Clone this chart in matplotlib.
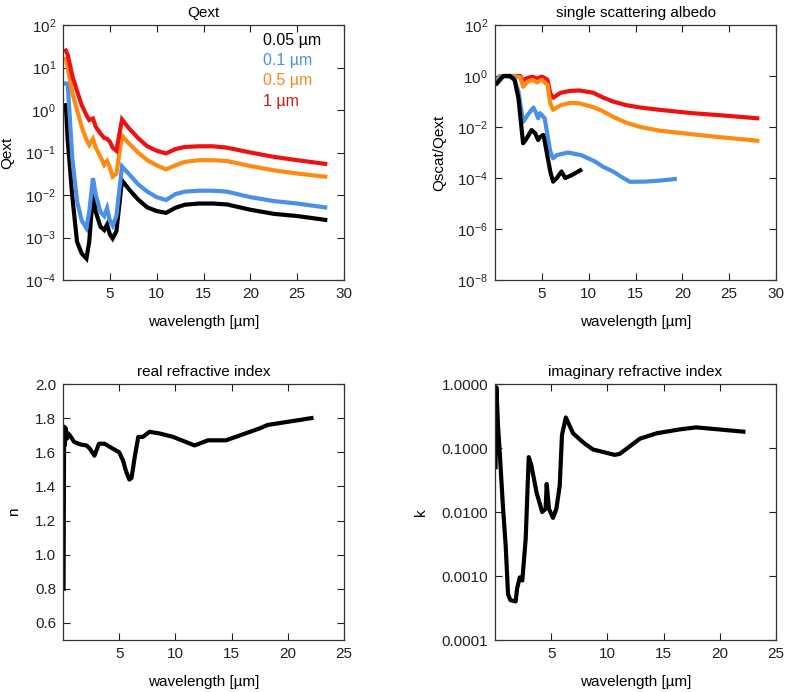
import matplotlib
matplotlib.use("Agg")
import matplotlib.pyplot as plt
from matplotlib.ticker import FixedLocator, FuncFormatter

plt.rcParams['font.family'] = ['Liberation Sans', 'DejaVu Sans']
plt.rcParams['mathtext.default'] = 'regular'
plt.rcParams['font.size'] = 11

# ---------------- data ----------------
sizes = ["0.05 µm", "0.1 µm", "0.5 µm", "1 µm"]
colors = ["#000000", "#4a8fe8", "#ff8a12", "#ee1111"]
label_colors = ["#000000", "#4a8fe8", "#f08a1e", "#d01818"]

qext_wl = [0.3, 0.5, 1.0, 1.5, 2.0, 2.5, 2.8, 3.2, 3.5, 4.0, 4.4, 4.7, 5.0, 5.3, 5.7,
           6.3, 7.0, 8.0, 9.0, 10.0, 11.0, 12.0, 13.0, 14.5, 16.0, 17.5, 20.0, 22.5, 25.0, 28.0]
qext_005 = [1.3, 0.2, 0.0089, 0.00079, 0.00042, 0.00032, 0.00079, 0.011, 0.004, 0.0018,
            0.0015, 0.002, 0.0012, 0.00095, 0.0014, 0.022, 0.014, 0.0079, 0.0051, 0.0042,
            0.0038, 0.005, 0.0059, 0.0063, 0.0063, 0.006, 0.0045, 0.0036, 0.0032, 0.0026]
qext_01 = [4.2, 4.2, 0.071, 0.0071, 0.0025, 0.00166, 0.004, 0.025, 0.010, 0.004,
           0.0032, 0.0049, 0.0025, 0.0019, 0.0032, 0.047, 0.032, 0.018, 0.012, 0.0089,
           0.0076, 0.0105, 0.012, 0.0126, 0.0126, 0.012, 0.0089, 0.0072, 0.0063, 0.0051]
qext_05 = [16, 10, 2.5, 1.0, 0.40, 0.20, 0.15, 0.21, 0.13, 0.079,
           0.051, 0.063, 0.045, 0.027, 0.032, 0.25, 0.166, 0.10, 0.066, 0.050,
           0.040, 0.050, 0.060, 0.066, 0.066, 0.063, 0.048, 0.038, 0.032, 0.027]
qext_1 = [25, 20, 6.3, 2.8, 1.3, 0.76, 0.58, 0.63, 0.40, 0.28,
          0.22, 0.21, 0.18, 0.13, 0.11, 0.60, 0.38, 0.22, 0.14, 0.11,
          0.095, 0.12, 0.135, 0.14, 0.14, 0.13, 0.10, 0.079, 0.066, 0.054]

alb_wl_005 = [0.2, 0.9, 1.6, 2.1, 2.5, 3.0, 3.3, 3.9, 4.3, 4.6, 4.8, 5.15, 5.3, 5.9, 6.2,
              6.6, 7.1, 7.5, 8.2, 9.1]
alb_005 = [0.51, 1.0, 1.0, 0.69, 0.135, 0.0023, 0.0032, 0.0076, 0.0056, 0.0031, 0.004,
           0.0049, 0.0028, 0.00018, 7.2e-5, 1e-4, 0.00018, 1e-4, 0.00013, 0.0002]
alb_wl_01 = [0.2, 0.5, 1.0, 2.0, 2.5, 3.0, 3.5, 4.1, 4.4, 4.6, 4.8, 5.3, 5.9, 6.2, 6.6,
             7.8, 9.2, 10.7, 11.5, 12.6, 13.5, 14.4, 16.0, 17.6, 19.2]
alb_01 = [0.56, 0.89, 1.0, 0.89, 0.25, 0.016, 0.030, 0.058, 0.035, 0.022, 0.035, 0.022,
          0.0011, 0.00059, 0.00079, 0.001, 0.00079, 0.00044, 0.00028, 0.00018, 0.00011,
          7.1e-5, 7.2e-5, 7.9e-5, 9.1e-5]
alb_wl_big = [0.2, 0.5, 1.0, 2.0, 2.7, 3.0, 3.5, 4.0, 4.5, 5.0, 5.3, 5.6, 5.9, 6.2, 7.0,
              8.0, 9.0, 10.5, 11.5, 12.6, 14.0, 15.5, 17.6, 21.0, 24.0, 28.0]
alb_05 = [0.63, 1.0, 1.0, 1.0, 0.89, 0.38, 0.60, 0.71, 0.56, 0.71, 0.56, 0.45, 0.085,
          0.047, 0.071, 0.089, 0.085, 0.060, 0.042, 0.025, 0.0148, 0.010, 0.0072, 0.0052,
          0.004, 0.0029]
alb_1 = [0.63, 1.0, 1.0, 1.0, 1.0, 0.66, 0.85, 0.93, 0.79, 0.95, 0.83, 0.71, 0.21, 0.14,
         0.22, 0.26, 0.27, 0.22, 0.145, 0.10, 0.072, 0.058, 0.047, 0.035, 0.029, 0.022]

n_wl = [0.05, 0.1, 0.15, 0.25, 0.35, 0.45, 0.6, 1.0, 1.6, 2.1, 2.4, 2.8, 3.2, 3.7, 4.2,
        4.6, 5.0, 5.35, 5.6, 5.9, 6.1, 6.4, 6.7, 7.1, 7.7, 8.6, 9.8, 11.7, 12.9, 14.5,
        17.5, 18.2, 22.1]
n_val = [0.8, 1.75, 1.64, 1.74, 1.68, 1.71, 1.70, 1.66, 1.645, 1.64, 1.62, 1.58, 1.65,
         1.65, 1.63, 1.615, 1.60, 1.55, 1.49, 1.44, 1.45, 1.58, 1.69, 1.69, 1.72, 1.71,
         1.69, 1.64, 1.67, 1.67, 1.74, 1.76, 1.80]

k_wl = [0.05, 0.12, 0.27, 0.42, 0.7, 0.95, 1.16, 1.37, 1.84, 1.96, 2.2, 2.43, 2.73, 3.0,
        3.23, 3.7, 4.2, 4.5, 4.6, 4.8, 5.16, 5.46, 5.76, 5.96, 6.3, 6.94, 7.83, 8.7,
        10.65, 11.1, 12.9, 14.4, 16.4, 17.9, 22.1]
k_val = [0.05, 0.89, 0.22, 0.087, 0.0126, 0.003, 0.00052, 0.00042, 0.0004, 0.00063,
         0.00095, 0.00085, 0.0038, 0.072, 0.054, 0.020, 0.010, 0.0112, 0.0275, 0.0112,
         0.0081, 0.0112, 0.026, 0.16, 0.30, 0.17, 0.123, 0.095, 0.078, 0.081, 0.14,
         0.17, 0.195, 0.21, 0.18]

# ---------------- figure ----------------
W, H = 786, 692
fig = plt.figure(figsize=(W / 100, H / 100), dpi=100)

def box(x0, y0, x1, y1):
    return [x0 / W, 1 - y1 / H, (x1 - x0) / W, (y1 - y0) / H]

ax1 = fig.add_axes(box(63, 25, 344, 280))
ax2 = fig.add_axes(box(495, 25, 776, 280))
ax3 = fig.add_axes(box(63, 384, 344, 640))
ax4 = fig.add_axes(box(495, 384, 776, 640))

LW = 3.0

def style(ax):
    ax.tick_params(direction='in', length=5, width=0.8, top=True, right=True,
                   labelsize=11, pad=5, colors='#222222')
    ax.tick_params(axis='both', which='minor', length=0)
    for s in ax.spines.values():
        s.set_linewidth(0.9)
        s.set_color('#333333')

# Panel 1: Qext
for y, c in zip([qext_005, qext_01, qext_05, qext_1], colors):
    ax1.plot(qext_wl, y, color=c, lw=LW, solid_joinstyle='miter')
ax1.set_yscale('log')
ax1.set_ylim(1e-4, 1e2)
ax1.set_xlim(0, 30)
ax1.xaxis.set_major_locator(FixedLocator([5, 10, 15, 20, 25, 30]))
ax1.yaxis.set_major_locator(FixedLocator([1e-4, 1e-3, 1e-2, 1e-1, 1e0, 1e1, 1e2]))
ax1.set_title("Qext", fontsize=11, pad=6)
ax1.set_xlabel("wavelength [µm]", fontsize=11, labelpad=10)
ax1.set_ylabel("Qext", fontsize=11, labelpad=8)
for i, (lab, c) in enumerate(zip(sizes, label_colors)):
    ax1.text(0.712, 0.941 - i * 0.080, lab, color=c, fontsize=11.5,
             transform=ax1.transAxes, va='center', ha='left')
style(ax1)

# Panel 2: albedo
ax2.plot(alb_wl_big, alb_1, color=colors[3], lw=LW)
ax2.plot(alb_wl_big, alb_05, color=colors[2], lw=LW)
ax2.plot(alb_wl_01, alb_01, color=colors[1], lw=LW)
ax2.plot(alb_wl_005, alb_005, color=colors[0], lw=LW)
ax2.set_yscale('log')
ax2.set_ylim(1e-8, 1e2)
ax2.set_xlim(0, 30)
ax2.xaxis.set_major_locator(FixedLocator([5, 10, 15, 20, 25, 30]))
ax2.yaxis.set_major_locator(FixedLocator([1e-8, 1e-6, 1e-4, 1e-2, 1e0, 1e2]))
ax2.set_title("single scattering albedo", fontsize=11, pad=6)
ax2.set_xlabel("wavelength [µm]", fontsize=11, labelpad=10)
ax2.set_ylabel("Qscat/Qext", fontsize=11, labelpad=8)
style(ax2)

# Panel 3: real refractive index
ax3.plot(n_wl, n_val, color='black', lw=LW)
ax3.set_xlim(0, 25)
ax3.set_ylim(0.5, 2.0)
ax3.xaxis.set_major_locator(FixedLocator([5, 10, 15, 20, 25]))
ax3.yaxis.set_major_locator(FixedLocator([0.6, 0.8, 1.0, 1.2, 1.4, 1.6, 1.8, 2.0]))
ax3.yaxis.set_major_formatter(FuncFormatter(lambda v, p: f"{v:.1f}"))
ax3.set_title("real refractive index", fontsize=11, pad=6)
ax3.set_xlabel("wavelength [µm]", fontsize=11, labelpad=10)
ax3.set_ylabel("n", fontsize=11, labelpad=10)
style(ax3)

# Panel 4: imaginary refractive index
ax4.plot(k_wl, k_val, color='black', lw=LW)
ax4.set_yscale('log')
ax4.set_xlim(0, 25)
ax4.set_ylim(1e-4, 1.0)
ax4.xaxis.set_major_locator(FixedLocator([5, 10, 15, 20, 25]))
ax4.yaxis.set_major_locator(FixedLocator([1e-4, 1e-3, 1e-2, 1e-1, 1.0]))
ax4.yaxis.set_major_formatter(FuncFormatter(lambda v, p: f"{v:.4f}"))
ax4.set_title("imaginary refractive index", fontsize=11, pad=6)
ax4.set_xlabel("wavelength [µm]", fontsize=11, labelpad=10)
ax4.set_ylabel("k", fontsize=11, labelpad=10)
style(ax4)

fig.savefig("out.png", dpi=100)
